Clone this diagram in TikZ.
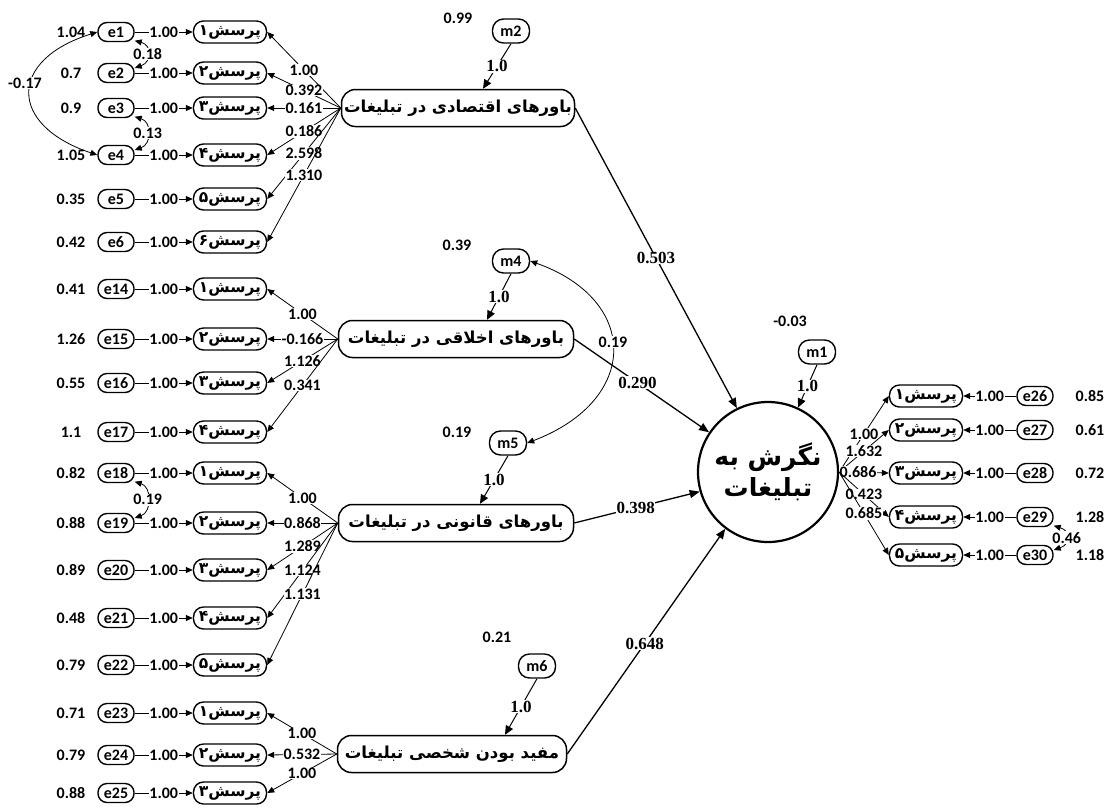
\documentclass[tikz,border=0pt]{standalone}
\usepackage{fontspec}
\setmainfont{Carlito}
\newfontfamily\fa[Script=Arabic]{DejaVu Sans}
\newfontfamily\tnr{Liberation Serif}
\TeXXeTstate=1
\usetikzlibrary{arrows.meta,calc}
\newcommand\prs[1]{{\fa\bfseries\beginR #1\endR}}
\begin{document}
\begin{tikzpicture}[x=1pt,y=-1pt,
  num/.style={font=\bfseries\fontsize{16}{18}\selectfont, inner sep=0.6pt},
  lab/.style={num, fill=white},
  ser/.style={font=\tnr\bfseries\fontsize{17}{19}\selectfont, inner sep=0.6pt, fill=white},
  item/.style={draw, line width=1.4pt, rounded corners=10pt, minimum width=73pt, minimum height=22pt, inner sep=0pt, font=\fontsize{15.5}{17}\selectfont},
  err/.style={num, draw, line width=1.4pt, rounded corners=9pt, minimum width=36pt, minimum height=19pt, inner sep=0pt},
  res/.style={err, minimum width=37pt, minimum height=24pt, rounded corners=11pt},
  lat/.style={draw, line width=1.5pt, rounded corners=14pt, minimum height=37pt, inner sep=0pt, font=\fontsize{16.5}{19}\selectfont},
  conn/.style={line width=0.8pt, -{Triangle[length=7pt,width=6pt]}},
  bi/.style={line width=0.8pt, {Triangle[length=7pt,width=6pt]}-{Triangle[length=7pt,width=6pt]}},
  mar/.style={line width=1pt, -{Triangle[length=9pt,width=8pt]}},
  pth/.style={line width=1.3pt, -{Triangle[length=10pt,width=8pt]}}
]
\useasboundingbox (0,0) rectangle (1108,807);

% latent variables
\node[lat, minimum width=233pt] (L1) at (458,108) {\prs{باورهای اقتصادی در تبلیغات}};
\node[lat, minimum width=235pt] (L2) at (456,339) {\prs{باورهای اخلاقی در تبلیغات}};
\node[lat, minimum width=235pt] (L3) at (456,523) {\prs{باورهای قانونی در تبلیغات}};
\node[lat, minimum width=229pt] (L4) at (452,754) {\prs{مفید بودن شخصی تبلیغات}};
\node[draw, circle, line width=2.2pt, minimum size=140pt, inner sep=0pt, align=center, font=\fontsize{25}{31}\selectfont] (C) at (768,472) {\prs{نگرش به}\\\prs{تبلیغات}};

% residuals of latents
\node[res] (m2) at (511,31) {m2};
\node[res] (m4) at (511,261) {m4};
\node[res] (m5) at (508,443) {m5};
\node[res] (m6) at (537,666) {m6};
\node[res] (m1) at (817,352) {m1};
\node[num] (v2) at (458,18) {0.99};
\node[num] (v4) at (457,245) {0.39};
\node[num] (v5) at (457,432) {0.19};
\node[num] (v6) at (497,637) {0.21};
\node[num] (v1) at (790,321) {-0.03};

\draw[mar] (m2.south) -- node[ser]{1.0} ($(L1.north)+(25,0)$);
\draw[mar] (m4.south) -- node[ser]{1.0} ($(L2.north)+(31,0)$);
\draw[mar] (m5.south) -- node[ser]{1.0} ($(L3.north)+(24,0)$);
\draw[mar] (m6.south) -- node[ser]{1.0} ($(L4.north)+(53,0)$);
\draw[mar] (m1.south) -- node[ser]{1.0} (C.65);

\draw[bi] (m4.east) .. controls (640,300) and (640,400) .. (m5.east);
\node[lab] (c45) at (613,342) {0.19};

% structural paths
\draw[pth] (L1.east) -- node[ser,pos=0.5]{0.503} (C.116);
\draw[pth] (L2.east) -- node[ser,pos=0.47]{0.290} (C.146);
\draw[pth] (L3.east) -- node[ser,pos=0.49]{0.398} (C.196);
\draw[pth] (L4.east) -- node[ser,pos=0.49]{0.648} (C.233);

% group 1
\foreach \n/\y/\v/\d/\l in {1/32/1.04/۱/1.00, 2/73/0.7/۲/0.392, 3/108/0.9/۳/0.161, 4/155/1.05/۴/0.186, 5/199/0.35/۵/2.598, 6/242/0.42/۶/1.310}{
  \node[err] (e\n) at (116,\y) {e\n};
  \node[item] (q\n) at (230,\y) {\prs{پرسش\d}};
  \node[num] (v\n) at (71,\y) {\v};
  \draw[conn] (e\n) -- node[lab]{1.00} (q\n);
  \draw[conn] (L1.west) -- node[lab]{\l} (q\n.east);
}
% group 2
\foreach \n/\y/\v/\d/\l in {14/289/0.41/۱/1.00, 15/339/1.26/۲/-0.166, 16/383/0.55/۳/1.126, 17/432/1.1/۴/0.341}{
  \node[err] (e\n) at (116,\y) {e\n};
  \node[item] (q\n) at (230,\y) {\prs{پرسش\d}};
  \node[num] (v\n) at (71,\y) {\v};
  \draw[conn] (e\n) -- node[lab]{1.00} (q\n);
  \draw[conn] (L2.west) -- node[lab]{\l} (q\n.east);
}
% group 3
\foreach \n/\y/\v/\d/\l in {18/473/0.82/۱/1.00, 19/523/0.88/۲/0.868, 20/570/0.89/۳/1.289, 21/618/0.48/۴/1.124, 22/665/0.79/۵/1.131}{
  \node[err] (e\n) at (116,\y) {e\n};
  \node[item] (q\n) at (230,\y) {\prs{پرسش\d}};
  \node[num] (v\n) at (71,\y) {\v};
  \draw[conn] (e\n) -- node[lab]{1.00} (q\n);
  \draw[conn] (L3.west) -- node[lab]{\l} (q\n.east);
}
% group 4
\foreach \n/\y/\v/\d/\l in {23/713/0.71/۱/1.00, 24/755/0.79/۲/0.532, 25/793/0.88/۳/1.00}{
  \node[err] (e\n) at (116,\y) {e\n};
  \node[item] (q\n) at (230,\y) {\prs{پرسش\d}};
  \node[num] (v\n) at (71,\y) {\v};
  \draw[conn] (e\n) -- node[lab]{1.00} (q\n);
  \draw[conn] (L4.west) -- node[lab]{\l} (q\n.east);
}
% dependent indicators
\foreach \n/\y/\v/\d/\l/\p in {26/396/0.85/۱/1.00/0.5, 27/430/0.61/۲/1.632/0.5, 28/473/0.72/۳/0.686/0.38, 29/517/1.28/۴/0.423/0.5, 30/555/1.18/۵/0.685/0.5}{
  \node[item] (q\n) at (926,\y) {\prs{پرسش\d}};
  \node[err] (e\n) at (1035,\y) {e\n};
  \node[num] (v\n) at (1090,\y) {\v};
  \draw[conn] (e\n) -- node[lab]{1.00} (q\n);
  \draw[conn] (C.east) -- node[lab,pos=\p]{\l} (q\n.west);
}

% covariances
\draw[bi] (e1.west) .. controls (8,60) and (8,125) .. (e4.west);
\node[lab] (c14) at (25,83) {-0.17};
\draw[bi] (e1.-25) .. controls (152,45) and (152,62) .. node[lab,pos=0.5]{0.18} (e2.15);
\draw[bi] (e3.-25) .. controls (152,122) and (152,144) .. node[lab,pos=0.5]{0.13} (e4.15);
\draw[bi] (e18.-25) .. controls (152,487) and (152,512) .. node[lab,pos=0.5]{0.19} (e19.15);
\draw[bi] (e29.-25) .. controls (1071,531) and (1071,544) .. node[lab,pos=0.5]{0.46} (e30.15);
\end{tikzpicture}
\end{document}
